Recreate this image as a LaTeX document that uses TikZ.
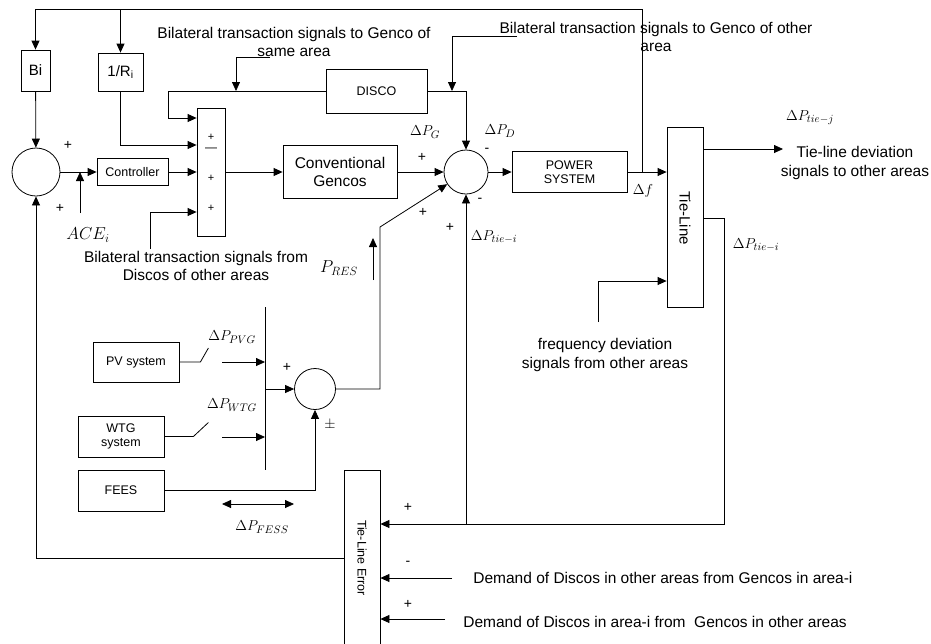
\documentclass[tikz,border=0pt]{standalone}
\usepackage{fontspec}
\setmainfont{Liberation Sans}
\usetikzlibrary{arrows.meta, calc}

\begin{document}
\begin{tikzpicture}[x=1pt, y=-1pt, line width=0.8pt,
	sig/.style={-{Triangle[length=9pt,width=8pt]}},
	dsig/.style={{Triangle[length=9pt,width=8pt]}-{Triangle[length=9pt,width=8pt]}},
	blk/.style={draw, rectangle, inner sep=0pt, align=center, font=\fontsize{12.5}{14.5}\selectfont},
	sumb/.style={draw, circle, inner sep=0pt},
	txt/.style={font=\fontsize{15.5}{18.5}\selectfont, align=center, inner sep=0pt},
	sgn/.style={font=\fontsize{14}{16}\selectfont, inner sep=0pt}]
	\useasboundingbox (0,0) rectangle (931,643);
	
	% blocks of area i
	\node[sumb, minimum size=48pt] (sumA) at (36,172) {};
	\node[blk, font=\fontsize{15}{18}\selectfont, minimum width=29pt, minimum height=41pt] (bi) at (35.5,70.5) {Bi};
	\node[blk, font=\fontsize{15}{18}\selectfont, minimum width=45pt, minimum height=38pt] (rinv) at (120.5,72) {1/R\textsubscript{i}};
	\node[blk, minimum width=71pt, minimum height=27pt] (ctrl) at (132.5,172) {Controller};
	\node[blk, minimum width=28pt, minimum height=128pt] (mux) at (211,172) {};
	\node[blk, font=\fontsize{15.5}{18}\selectfont, minimum width=114pt, minimum height=53pt] (gencos) at (340,172) {Conventional\\Gencos};
	\node[blk, minimum width=101pt, minimum height=44pt] (disco) at (376.5,91) {DISCO};
	\node[sumb, minimum size=44pt] (sumB) at (466,172) {};
	\node[blk, minimum width=115pt, minimum height=41pt] (ps) at (569.5,172) {POWER\\SYSTEM};
	\node[blk, minimum width=36pt, minimum height=180pt] (tl) at (685,217) {};
	\node[txt, font=\fontsize{15}{17}\selectfont, rotate=-90] (tltxt) at (685,218) {Tie-Line};
	\node[blk, minimum width=36pt, minimum height=174pt] (tle) at (362,557) {};
	\node[txt, font=\fontsize{12.5}{14}\selectfont, rotate=-90] (tletxt) at (362,558) {Tie-Line Error};
	
	% renewable sources
	\node[blk, minimum width=86pt, minimum height=40pt] (pv) at (136,362) {PV system};
	\node[blk, minimum width=86pt, minimum height=41pt] (wtg) at (121,436.5) {WTG\\system};
	\node[blk, minimum width=86pt, minimum height=41pt] (fees) at (121,490.5) {FEES};
	\node[sumb, minimum size=41pt] (sumC) at (315,389) {};
	
	% free ends
	\coordinate (fJ) at (642,172);
	\coordinate (topR) at (642,9);
	\coordinate (ace) at (80,213);
	\coordinate (dL) at (168,91);
	\coordinate (sa) at (270,57);
	\coordinate (saT) at (236,91);
	\coordinate (bo) at (150,249);
	\coordinate (oa) at (517,36);
	\coordinate (oaT) at (452,91);
	\coordinate (tlo) at (783,149);
	\coordinate (lp) at (724,524);
	\coordinate (fq) at (598,322);
	\coordinate (d1) at (452,578);
	\coordinate (d2) at (445,619);
	\coordinate (barT) at (265,307);
	\coordinate (barB) at (265,470);
	\coordinate (swP) at (222,362);
	\coordinate (swW) at (222,437);
	\coordinate (res) at (380,227);
	\coordinate (pres) at (373,280);
	
	% signal paths
	\draw[sig] (fJ) -- (topR) -| (bi.north);
	\draw[sig] (rinv.north |- topR) -- (rinv.north);
	\draw[sig] (bi) -- (sumA);
	\draw[sig] (sumA) -- (ctrl);
	\draw[sig] (ace) -- (ace |- sumA.east);
	\draw[sig] (ctrl) -- (mux);
	\draw[sig] (rinv) |- (mux.west |- 0,145);
	\draw[sig] (disco) -- (dL) |- (mux.west |- 0,118);
	\draw[sig] (sa) -| (saT);
	\draw[sig] (bo) |- (mux.west |- 0,212);
	\draw[sig] (mux) -- (gencos);
	\draw[sig] (gencos) -- (sumB);
	\draw[sig] (disco) -| (sumB);
	\draw[sig] (oa) -| (oaT);
	\draw[sig] (sumB) -- (ps);
	\draw[sig] (ps) -- (ps -| tl.west);
	\draw[sig] (tl.east |- tlo) -- (tlo);
	\draw[sig] (tl.east |- 0,218) -| (lp) -- (tle.east |- lp);
	\draw[sig] (sumB |- lp) -- (sumB);
	\draw[sig] (fq) |- (tl.west |- 0,281);
	\draw[sig] (tle.west |- 0,558) -| (sumA);
	\draw[sig] (d1) -- (tle.east |- d1);
	\draw[sig] (d2) -- (tle.east |- d2);
	
	% renewable paths
	\draw (barT) -- (barB);
	\draw (pv.east) -- ++(21,0) -- ++(8,-14);
	\draw[sig] (swP) -- (barT |- swP);
	\draw (wtg.east) -- ++(29,0) -- ++(15,-14);
	\draw[sig] (swW) -- (barT |- swW);
	\draw[sig] (barT |- sumC) -- (sumC);
	\draw[sig] (fees) -| (sumC);
	\draw[sig] (sumC) -| (res) -- (sumB.213);
	\draw[sig] (pres) -- ++(0,-42);
	\draw[dsig] (222,504) -- (294,504);
	
	% signs
	\node[sgn] (s1) at (68,145) {+};
	\node[sgn] (s2) at (60,208) {+};
	\node[sgn, font=\fontsize{11}{13}\selectfont] (m1) at (211,137) {+};
	\node[sgn, font=\fontsize{12}{13}\selectfont] (m2) at (211,150) {---};
	\node[sgn, font=\fontsize{11}{13}\selectfont] (m3) at (211,178) {+};
	\node[sgn, font=\fontsize{11}{13}\selectfont] (m4) at (211,208) {+};
	\node[sgn] (s3) at (422,157) {+};
	\node[sgn] (s4) at (487,150) {-};
	\node[sgn] (s5) at (480,200) {-};
	\node[sgn] (s6) at (423,212) {+};
	\node[sgn] (s7) at (450,227) {+};
	\node[sgn] (s8) at (287,367) {+};
	\node[sgn] (s9) at (330,425) {$\pm$};
	\node[sgn] (s10) at (408,507) {+};
	\node[sgn] (s11) at (408,563) {-};
	\node[sgn] (s12) at (408,604) {+};
	
	% signal names
	\node[txt, font=\fontsize{17}{20}\selectfont] (aceL) at (88,235) {$ACE_i$};
	\node[txt] (dpg) at (425,132) {$\Delta P_{G}$};
	\node[txt] (dpd) at (500,131) {$\Delta P_{D}$};
	\node[txt] (dpti) at (494,237) {$\Delta P_{tie-i}$};
	\node[txt] (df) at (643,191) {$\Delta f$};
	\node[txt] (dptj) at (810,118) {$\Delta P_{tie-j}$};
	\node[txt] (dpti2) at (756,245) {$\Delta P_{tie-i}$};
	\node[txt, font=\fontsize{17}{20}\selectfont] (presL) at (339,268) {$P_{RES}$};
	\node[txt] (dppv) at (232,337) {$\Delta P_{PVG}$};
	\node[txt] (dpwt) at (232,405) {$\Delta P_{WTG}$};
	\node[txt] (dpfe) at (262,527) {$\Delta P_{FESS}$};
	
	% texts
	\node[txt] (sameL) at (294,42) {Bilateral transaction signals to Genco of\\same area};
	\node[txt] (otherL) at (656,37) {Bilateral transaction signals to Genco of other\\area};
	\node[txt] (fromL) at (196,266) {Bilateral transaction signals from\\Discos of other areas};
	\node[txt] (tieL) at (855,163) {Tie-line deviation\\signals to other areas};
	\node[txt] (freqL) at (605,355) {frequency deviation\\signals from other areas};
	\node[txt, anchor=west] (dem1) at (473,578) {Demand of Discos in other areas from Gencos in area-i};
	\node[txt, anchor=west] (dem2) at (463,622) {Demand of Discos in area-i from\ \ Gencos in other areas};
\end{tikzpicture}
\end{document}
